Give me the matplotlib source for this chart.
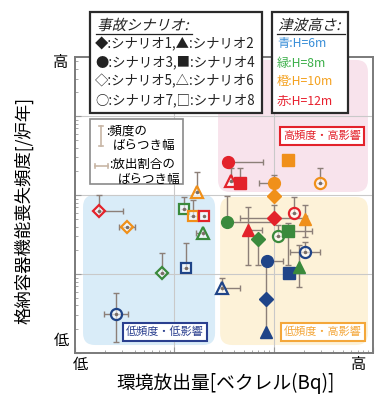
import matplotlib.pyplot as plt
from matplotlib.patches import FancyBboxPatch, PathPatch, Rectangle
from matplotlib.textpath import TextPath
from matplotlib.font_manager import FontProperties
from matplotlib.transforms import Affine2D
from matplotlib.lines import Line2D

plt.rcParams['font.family'] = ['Noto Sans CJK JP', 'DejaVu Sans']

# scenario number (1-8) and tsunami height [m] for each case
scenario = [3, 4, 6, 4, 3, 7, 6, 1, 5, 5, 8, 8, 8, 6, 3, 1,
            7, 2, 2, 1, 7, 4, 7, 3, 4, 2, 5, 8, 6, 1, 2, 7]
height = [12, 10, 12, 12, 10, 10, 10, 10, 12, 10, 8, 10, 12, 8, 8, 12,
          12, 10, 12, 8, 8, 8, 6, 6, 6, 8, 8, 6, 6, 6, 6, 6]

# log10 of release amount (relative) and of containment failure frequency
rel = [1.54, 2.145, 1.57, 1.66, 2.00, 2.47, 1.23, 2.00, 0.24, 0.52, 1.10, 1.19, 1.30, 1.29, 1.53, 2.00,
       2.20, 2.32, 1.74, 1.84, 2.04, 2.145, 2.32, 1.93, 2.155, 2.255, 0.875, 1.12, 1.48, 1.92, 1.92, 0.41]
freq = [2.42, 2.45, 2.18, 2.155, 2.155, 2.155, 2.04, 1.99, 1.80, 1.60, 1.825, 1.74, 1.74, 1.52, 1.66, 1.71,
        1.775, 1.70, 1.56, 1.445, 1.48, 1.545, 1.28, 1.165, 1.01, 1.09, 1.01, 1.08, 0.82, 0.685, 0.27, 0.49]

# spread of release fraction (log10 bounds)
rel_lo = [1.54, 2.145, 1.57, 1.66, 1.85, 2.47, 1.23, 2.00, 0.24, 0.44, 1.10, 1.19, 1.30, 1.22, 1.53, 1.66,
          2.20, 2.32, 1.74, 1.84, 2.04, 2.145, 2.165, 1.93, 2.155, 2.255, 0.875, 1.12, 1.48, 1.92, 1.92, 0.29]
rel_hi = [1.89, 2.145, 1.57, 1.66, 2.00, 2.47, 1.23, 2.00, 0.48, 0.60, 1.10, 1.19, 1.30, 1.29, 2.00, 2.34,
          2.20, 2.32, 1.88, 1.84, 2.04, 2.39, 2.47, 2.095, 2.155, 2.255, 0.875, 1.12, 1.66, 1.92, 1.92, 0.53]
# spread of frequency (log10 bounds)
freq_lo = [2.42, 2.40, 2.18, 2.155, 2.155, 2.155, 2.04, 1.99, 1.80, 1.60, 1.825, 1.74, 1.74, 1.52, 1.66, 1.71,
           1.775, 1.47, 1.115, 1.12, 1.48, 1.115, 1.28, 1.165, 1.01, 0.84, 1.01, 1.08, 0.82, 0.27, 0.27, 0.14]
freq_hi = [2.42, 2.45, 2.34, 2.34, 2.26, 2.34, 2.29, 1.99, 2.00, 1.60, 1.98, 1.94, 1.74, 1.52, 1.99, 1.88,
           1.98, 1.88, 1.85, 1.445, 1.62, 1.65, 1.40, 1.165, 1.01, 1.37, 1.27, 1.39, 0.95, 1.165, 0.27, 0.76]

height_colors = {6: '#1f4488', 8: '#3a8a3c', 10: '#f0901a', 12: '#e3222b'}
scen_marker = {1: 'D', 2: '^', 3: 'o', 4: 's', 5: 'D', 6: '^', 7: 'o', 8: 's'}
scen_size = {'D': 7, '^': 8.5, 'o': 8.5, 's': 8}
bar_color = '#8c7f78'

W, H = 377, 394


def fx(x):
    return x / W


def fy(y):
    return 1 - y / H


fig = plt.figure(figsize=(W / 100, H / 100), dpi=100)
ax = fig.add_axes([fx(75), fy(353), (373 - 75) / W, (353 - 57) / H])
ax.set_xscale('log')
ax.set_yscale('log')
ax.set_xlim(1, 10 ** 3.0)
ax.set_ylim(1, 10 ** 3.75)

# background zones
zones = [((0.48, 0.544), 0.503, 0.446, '#f8e3ec'),
         ((0.027, 0.027), 0.443, 0.507, '#d9ecf8'),
         ((0.487, 0.027), 0.496, 0.50, '#fdf2d8')]
for (x0, y0), w, h, c in zones:
    ax.add_patch(FancyBboxPatch((x0, y0), w, h, boxstyle='round,pad=0,rounding_size=0.04',
                                transform=ax.transAxes, fc=c, ec='none', zorder=0.5))

for v in [10, 100]:
    ax.axvline(v, color='#c9c9c9', lw=0.8, zorder=1)
for v in [10, 100, 1000]:
    ax.axhline(v, color='#c9c9c9', lw=0.8, zorder=1)

for i in range(len(scenario)):
    x = 10 ** rel[i]
    y = 10 ** freq[i]
    c = height_colors[height[i]]
    m = scen_marker[scenario[i]]
    xe = [[x - 10 ** rel_lo[i]], [10 ** rel_hi[i] - x]]
    ye = [[y - 10 ** freq_lo[i]], [10 ** freq_hi[i] - y]]
    if rel_hi[i] > rel_lo[i]:
        ax.errorbar(x, y, xerr=xe, fmt='none', ecolor=bar_color, elinewidth=1,
                    capsize=2, capthick=1, zorder=2)
    if freq_hi[i] > freq_lo[i]:
        ax.errorbar(x, y, yerr=ye, fmt='none', ecolor=bar_color, elinewidth=1,
                    capsize=2, capthick=1, zorder=2)
    if scenario[i] <= 4:
        ax.plot(x, y, marker=m, ms=scen_size[m], mfc=c, mec=c, mew=1, zorder=4)
    else:
        ax.plot(x, y, marker=m, ms=scen_size[m] - 0.5, mfc=(1, 1, 1, 0.6), mec=c, mew=1.6, zorder=4)
        ax.plot(x, y, marker='.', ms=3, color='#7a6e66', zorder=5)

ax.set_xticklabels([])
ax.set_yticklabels([])
ax.tick_params(which='both', direction='in', colors='#999999', labelleft=False, labelbottom=False)
ax.tick_params(which='major', length=4)
ax.tick_params(which='minor', length=2)
for s in ax.spines.values():
    s.set_color('#7a7a7a')
    s.set_linewidth(1.4)

# zone labels
zone_labels = [('高頻度・高影響', 322, 136, '#e3222b'),
               ('低頻度・低影響', 165, 332, '#2a3f8f'),
               ('低頻度・高影響', 323, 332, '#f4a73a')]
for s, x, y, c in zone_labels:
    fig.text(fx(x), fy(y), s, color=c, fontsize=8, ha='center', va='center', zorder=6,
             bbox=dict(boxstyle='square,pad=0.3', fc='white', ec=c, lw=1.5))

# axis end labels and titles
fig.text(fx(61), fy(63), '高', fontsize=11, ha='center', va='center')
fig.text(fx(61), fy(340), '低', fontsize=11, ha='center', va='center')
fig.text(fx(80), fy(364), '低', fontsize=11, ha='center', va='center')
fig.text(fx(359), fy(364), '高', fontsize=11, ha='center', va='center')
fig.text(fx(226), fy(383), '環境放出量[ベクレル(Bq)]', fontsize=13.5, ha='center', va='center')
fig.text(fx(24), fy(210), '格納容器機能喪失頻度[/炉年]', fontsize=12.5, ha='center', va='center',
         rotation=90)


def slanted_text(s, x, y, size, color='#222222'):
    fp = FontProperties(family='Noto Sans CJK JP')
    path = TextPath((0, 0), s, size=size, prop=fp)
    tr = (Affine2D().skew_deg(14, 0).scale(1 / 72.0)
          .translate(x / 100, (H - y) / 100) + fig.dpi_scale_trans)
    fig.add_artist(PathPatch(path, fc=color, ec='none', transform=tr, zorder=7))


# scenario legend
fig.add_artist(Rectangle((fx(90), fy(113)), (262 - 90) / W, 101 / H, transform=fig.transFigure,
                         fc='white', ec='#2a2a2a', lw=1.6, zorder=6))
slanted_text('事故シナリオ:', 97, 30, 10.5)
fig.add_artist(Line2D([fx(96), fx(192)], [fy(34), fy(34)], transform=fig.transFigure,
                      color='#222222', lw=0.9, zorder=7))
scen_lines = ['◆:シナリオ1,▲:シナリオ2', '●:シナリオ3,■:シナリオ4',
              '◇:シナリオ5,△:シナリオ6', '○:シナリオ7,□:シナリオ8']
for k, s in enumerate(scen_lines):
    fig.text(fx(95), fy(44 + 18.7 * k), s, fontsize=9.6, ha='left', va='center', zorder=8,
             color='#222222')

# tsunami height legend
fig.add_artist(Rectangle((fx(272), fy(113)), (348 - 272) / W, 101 / H, transform=fig.transFigure,
                         fc='white', ec='#2a2a2a', lw=1.6, zorder=6))
slanted_text('津波高さ:', 278, 30, 10.5)
fig.add_artist(Line2D([fx(277), fx(345)], [fy(34), fy(34)], transform=fig.transFigure,
                      color='#222222', lw=0.9, zorder=7))
height_lines = [('青:H=6m', '#3a8fd8'), ('緑:H=8m', '#3cb04a'),
                ('橙:H=10m', '#f4a11e'), ('赤:H=12m', '#e8202e')]
for k, (s, c) in enumerate(height_lines):
    fig.text(fx(277), fy(44 + 19 * k), s, fontsize=8.8, ha='left', va='center', color=c, zorder=8)

# error bar legend
fig.add_artist(Rectangle((fx(90), fy(184)), (183 - 90) / W, 65 / H, transform=fig.transFigure,
                         fc='white', ec='#8a8a8a', lw=1.2, zorder=6))
icon = '#c8b6a6'
fig.add_artist(Line2D([fx(101), fx(101)], [fy(126), fy(146)], transform=fig.transFigure,
                      color=icon, lw=1.2, zorder=7))
for yy in (126, 146):
    fig.add_artist(Line2D([fx(99), fx(103)], [fy(yy), fy(yy)], transform=fig.transFigure,
                          color=icon, lw=1.2, zorder=7))
fig.add_artist(Line2D([fx(95), fx(108)], [fy(166), fy(166)], transform=fig.transFigure,
                      color=icon, lw=1.2, zorder=7))
for xx in (95, 108):
    fig.add_artist(Line2D([fx(xx), fx(xx)], [fy(164), fy(168)], transform=fig.transFigure,
                          color=icon, lw=1.2, zorder=7))
fig.text(fx(106), fy(131), ':頻度の', fontsize=9, ha='left', va='center', zorder=8)
fig.text(fx(113), fy(146), 'ばらつき幅', fontsize=9, ha='left', va='center', zorder=8)
fig.text(fx(109), fy(164), ':放出割合の', fontsize=9, ha='left', va='center', zorder=8)
fig.text(fx(118), fy(179), 'ばらつき幅', fontsize=9, ha='left', va='center', zorder=8)

fig.savefig('out.png', dpi=100)
